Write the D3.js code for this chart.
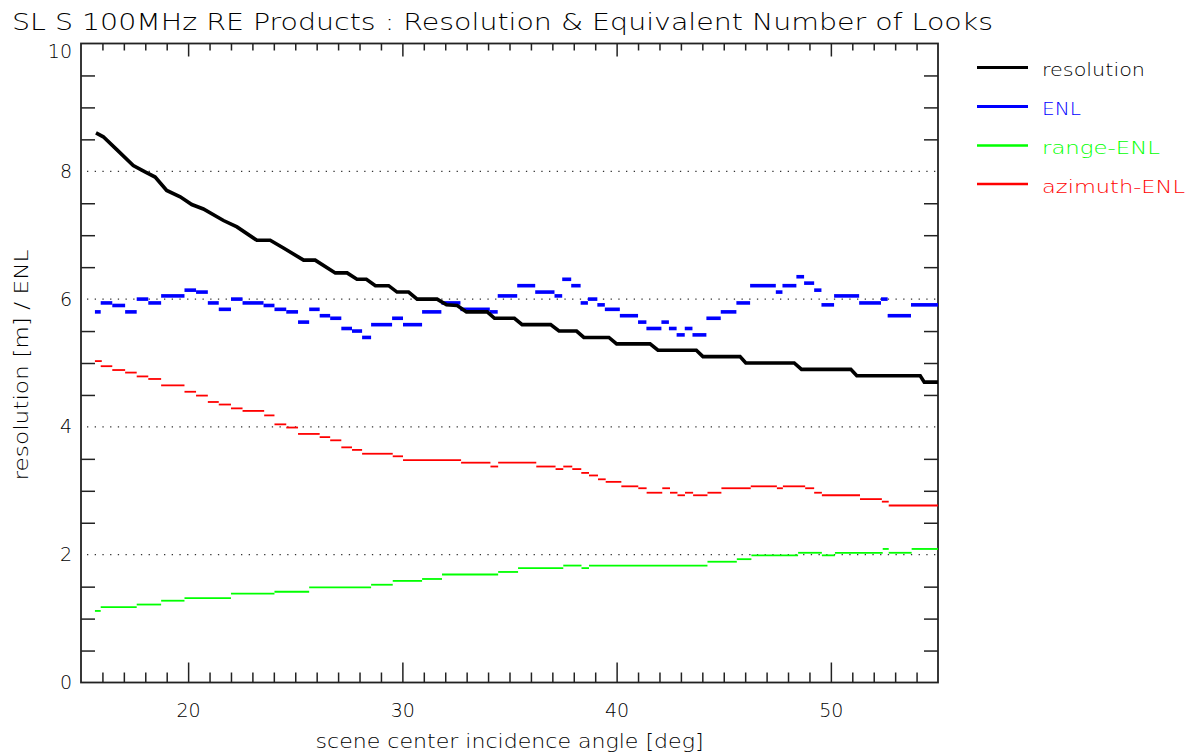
<!DOCTYPE html>
<html>
<head>
<meta charset="utf-8">
<script src="https://cdn.jsdelivr.net/npm/d3@7"></script>
<style>
  html, body { margin: 0; padding: 0; background: #fff; }
  svg { display: block; }
  text { font-family: "DejaVu Sans", "Liberation Sans", sans-serif; font-weight: 200; fill: #000; }
</style>
</head>
<body>
<svg id="chart" width="1197" height="756"></svg>
<script>
// ---------- data ----------
const chartTitle = "SL S 100MHz RE Products : Resolution & Equivalent Number of Looks";
const xLabel = "scene center incidence angle [deg]";
const yLabel = "resolution [m] / ENL";
const xTicks = [20, 30, 40, 50];
const yTicks = [0, 2, 4, 6, 8, 10];
const yGrid = [2, 4, 6, 8];
const seriesNames = ["resolution", "ENL", "range-ENL", "azimuth-ENL"];
const seriesColors = ["#000000", "#0000ff", "#00ff00", "#ff0000"];

// resolution (polyline)
const resAngle = [15.70,16.04,16.67,17.44,17.99,18.46,19.00,19.63,20.17,20.71,21.65,22.28,23.21,23.83,24.45,25.39,25.93,26.87,27.42,27.88,28.32,28.74,29.36,29.75,30.29,30.69,31.62,32.06,32.56,32.99,33.96,34.30,35.23,35.59,36.92,37.31,38.13,38.47,39.64,40.00,41.56,41.93,43.72,44.03,45.76,46.03,48.29,48.63,50.93,51.21,54.17,54.36,55.00];
const resValue = [8.60,8.54,8.34,8.09,7.99,7.91,7.70,7.60,7.48,7.41,7.23,7.13,6.92,6.92,6.80,6.61,6.61,6.41,6.41,6.31,6.31,6.21,6.21,6.11,6.11,6.00,6.00,5.91,5.90,5.80,5.80,5.70,5.70,5.60,5.60,5.50,5.50,5.40,5.40,5.30,5.30,5.20,5.20,5.10,5.10,5.00,5.00,4.90,4.90,4.80,4.80,4.70,4.70];

// ENL (horizontal segments)
const enlStart = [15.65,15.92,16.46,17.06,17.60,18.14,18.74,19.83,20.37,20.92,21.43,22.00,22.54,23.52,24.03,24.58,25.13,25.65,26.14,26.63,27.15,27.65,28.12,28.54,29.52,30.03,30.92,31.82,32.71,34.08,34.45,35.36,36.20,37.10,37.46,37.88,38.32,38.66,39.10,39.45,40.15,41.00,41.39,42.09,42.44,42.80,43.18,43.54,44.19,44.86,45.59,46.23,47.43,47.74,48.39,48.75,49.22,49.56,50.15,51.32,52.34,52.65,53.74];
const enlEnd   = [15.92,16.46,17.06,17.60,18.14,18.74,19.83,20.37,20.92,21.43,22.00,22.54,23.52,24.03,24.58,25.13,25.65,26.14,26.63,27.15,27.65,28.12,28.54,29.52,30.03,30.92,31.82,32.71,34.08,34.45,35.36,36.20,37.10,37.46,37.88,38.32,38.66,39.10,39.45,40.15,41.00,41.39,42.09,42.44,42.80,43.18,43.54,44.19,44.86,45.59,46.23,47.43,47.74,48.39,48.75,49.22,49.56,50.15,51.32,52.34,52.65,53.74,55.00];
const enlValue = [5.80,5.94,5.90,5.80,6.00,5.94,6.05,6.14,6.11,5.94,5.84,6.00,5.94,5.90,5.84,5.80,5.64,5.84,5.74,5.70,5.54,5.50,5.40,5.60,5.70,5.60,5.80,5.94,5.84,5.80,6.05,6.21,6.11,6.05,6.31,6.21,5.94,6.00,5.91,5.84,5.74,5.64,5.54,5.64,5.54,5.44,5.54,5.44,5.70,5.80,5.94,6.21,6.11,6.21,6.35,6.25,6.14,5.91,6.05,5.94,6.00,5.74,5.91];

// range-ENL (horizontal segments)
const rngStart = [15.65,15.92,17.60,18.74,19.83,22.00,24.03,25.65,28.54,29.55,30.92,31.85,34.47,35.40,37.51,38.36,38.71,44.24,45.61,46.29,48.47,49.58,50.19,52.42,52.70,53.77];
const rngEnd   = [15.92,17.60,18.74,19.83,22.00,24.03,25.65,28.54,29.55,30.92,31.85,34.47,35.40,37.51,38.36,38.71,44.24,45.61,46.29,48.47,49.58,50.19,52.42,52.70,53.77,55.00];
const rngValue = [1.12,1.18,1.22,1.28,1.32,1.39,1.42,1.49,1.53,1.59,1.62,1.69,1.73,1.79,1.83,1.79,1.83,1.89,1.93,1.99,2.03,1.99,2.03,2.09,2.03,2.09];

// azimuth-ENL (horizontal segments)
const azStart = [15.65,15.92,16.46,17.06,17.60,18.14,18.74,19.83,20.37,20.92,21.43,22.00,22.54,23.55,24.03,24.58,25.13,26.14,26.63,27.15,27.65,28.12,29.55,30.03,32.74,34.11,34.47,36.25,37.15,37.51,37.93,38.35,38.71,39.13,39.49,40.22,41.01,41.40,42.13,42.49,42.84,43.19,43.57,44.24,44.89,46.26,47.48,47.76,48.80,49.22,49.58,51.36,52.38,52.70];
const azEnd   = [15.97,16.46,17.06,17.60,18.14,18.74,19.83,20.37,20.92,21.43,22.00,22.54,23.55,24.03,24.58,25.13,26.14,26.63,27.15,27.65,28.12,29.55,30.03,32.74,34.11,34.47,36.25,37.15,37.51,37.93,38.35,38.71,39.13,39.49,40.22,41.01,41.40,42.13,42.49,42.84,43.19,43.57,44.24,44.89,46.26,47.48,47.76,48.80,49.22,49.58,51.36,52.38,52.70,55.00];
const azValue = [5.03,4.95,4.89,4.85,4.79,4.75,4.65,4.55,4.49,4.39,4.35,4.29,4.25,4.18,4.04,3.99,3.89,3.84,3.79,3.68,3.64,3.58,3.54,3.48,3.44,3.38,3.44,3.38,3.34,3.38,3.34,3.28,3.24,3.18,3.14,3.07,3.04,2.97,3.04,2.97,2.93,2.97,2.93,2.97,3.04,3.07,3.04,3.07,3.04,2.97,2.93,2.87,2.83,2.77];

// ---------- drawing ----------
const svg = d3.select("#chart");
const L = 81, R = 938, T = 43.5, B = 682.5;
const x = d3.scaleLinear().domain([15, 55]).range([L, R]);
const y = d3.scaleLinear().domain([0, 10]).range([B, T]);

// title
svg.append("text").attr("x", 12).attr("y", 30)
  .attr("font-size", 23).attr("textLength", 981).attr("lengthAdjust", "spacingAndGlyphs")
  .text(chartTitle);

// dotted grid lines
svg.append("g").selectAll("line").data(yGrid).join("line")
  .attr("x1", L + 6).attr("x2", R).attr("y1", d => y(d)).attr("y2", d => y(d))
  .attr("stroke", "#333").attr("stroke-width", 1.2).attr("stroke-dasharray", "1.3,6.4");

// minor ticks
const yMinor = d3.range(0.5, 10, 0.5).filter(v => v % 2 !== 0);
const xMinor = d3.range(16, 55, 1).filter(v => v % 10 !== 0);
const axisStroke = "#222";

const gxB = svg.append("g").attr("transform", `translate(0,${B})`)
  .call(d3.axisBottom(x).tickValues(xTicks).tickSizeInner(-20).tickSizeOuter(0).tickPadding(21).tickFormat(d3.format("d")));
const gxBm = svg.append("g").attr("transform", `translate(0,${B})`)
  .call(d3.axisBottom(x).tickValues(xMinor).tickSizeInner(-10).tickSizeOuter(0).tickFormat(""));
const gxT = svg.append("g").attr("transform", `translate(0,${T})`)
  .call(d3.axisTop(x).tickValues(xTicks).tickSizeInner(-13).tickSizeOuter(0).tickFormat(""));
const gxTm = svg.append("g").attr("transform", `translate(0,${T})`)
  .call(d3.axisTop(x).tickValues(xMinor).tickSizeInner(-7).tickSizeOuter(0).tickFormat(""));
const gyL = svg.append("g").attr("transform", `translate(${L},0)`)
  .call(d3.axisLeft(y).tickValues(yTicks).tickSizeInner(0).tickSizeOuter(0).tickPadding(9).tickFormat(d3.format("d")));
const gyLm = svg.append("g").attr("transform", `translate(${L},0)`)
  .call(d3.axisLeft(y).tickValues(yMinor).tickSizeInner(-14).tickSizeOuter(0).tickFormat(""));
const gyRm = svg.append("g").attr("transform", `translate(${R},0)`)
  .call(d3.axisRight(y).tickValues(yMinor).tickSizeInner(-14).tickSizeOuter(0).tickFormat(""));

[gxB, gxBm, gxT, gxTm, gyL, gyLm, gyRm].forEach(g => {
  g.select(".domain").remove();
  g.selectAll(".tick line").attr("stroke", axisStroke).attr("stroke-width", 1.5);
  g.selectAll(".tick text").attr("font-size", 19).attr("font-family", "DejaVu Sans, sans-serif").attr("font-weight", 200).attr("fill", "#000");
});
// the top label sits just inside the frame top in the reference
gyL.selectAll(".tick text").filter(d => d === 10).attr("dy", "0.72em");

// frame
svg.append("rect").attr("x", L).attr("y", T).attr("width", R - L).attr("height", B - T)
  .attr("fill", "none").attr("stroke", axisStroke).attr("stroke-width", 1.8);

// axis titles
svg.append("text").attr("x", (L + R) / 2).attr("y", 748).attr("text-anchor", "middle")
  .attr("font-size", 19).attr("textLength", 388).attr("lengthAdjust", "spacingAndGlyphs").text(xLabel);
svg.append("text").attr("transform", `translate(28,365) rotate(-90)`).attr("text-anchor", "middle")
  .attr("font-size", 19).attr("textLength", 231).attr("lengthAdjust", "spacingAndGlyphs").text(yLabel);

// segment series
function segs(starts, ends, vals, color, width) {
  svg.append("g").selectAll("line").data(vals).join("line")
    .attr("x1", (d, i) => x(starts[i])).attr("x2", (d, i) => x(ends[i]))
    .attr("y1", d => y(d)).attr("y2", d => y(d))
    .attr("stroke", color).attr("stroke-width", width);
}
segs(azStart, azEnd, azValue, "#ff0000", 1.8);
segs(rngStart, rngEnd, rngValue, "#00ff00", 1.8);
segs(enlStart, enlEnd, enlValue, "#0000ff", 3.6);

// resolution line
const line = d3.line().x(d => x(d[0])).y(d => y(d[1]));
svg.append("path").datum(resAngle.map((a, i) => [a, resValue[i]]))
  .attr("d", line).attr("fill", "none").attr("stroke", "#000").attr("stroke-width", 3.6)
  .attr("stroke-linejoin", "miter");

// legend
const legY = [67.5, 106.5, 145.5, 184];
const legW = [3, 3, 2.5, 2.5];
const legTextLen = [103, 39, 118, 143];
const lg = svg.append("g");
lg.selectAll("line").data(seriesNames).join("line")
  .attr("x1", 977).attr("x2", 1028).attr("y1", (d, i) => legY[i]).attr("y2", (d, i) => legY[i])
  .attr("stroke", (d, i) => seriesColors[i]).attr("stroke-width", (d, i) => legW[i]);
lg.selectAll("text").data(seriesNames).join("text")
  .attr("x", 1042).attr("y", (d, i) => legY[i] + 8.5)
  .attr("font-size", 18).attr("textLength", (d, i) => legTextLen[i]).attr("lengthAdjust", "spacingAndGlyphs")
  .style("fill", (d, i) => seriesColors[i]).text(d => d);
</script>
</body>
</html>
